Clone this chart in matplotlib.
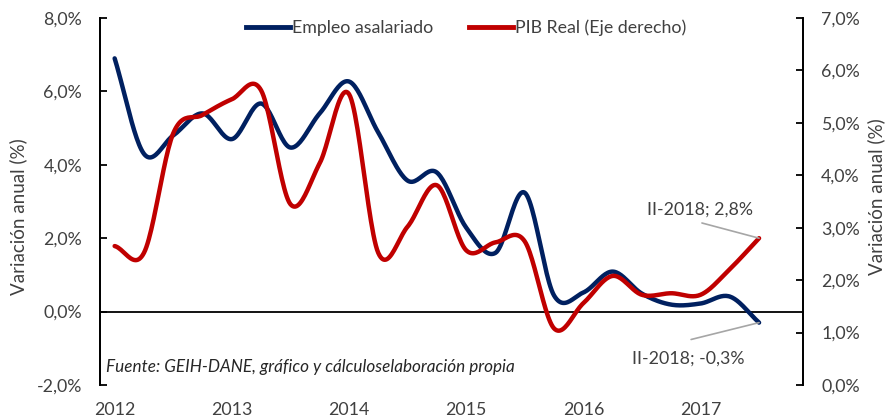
import numpy as np
import matplotlib

matplotlib.use("Agg")
import matplotlib.pyplot as plt  # noqa: E402

# quarterly series, 2012 onward (last point = II-2018)
empleo = [6.9, 4.3, 4.8, 5.4, 4.7, 5.67, 4.47, 5.4, 6.27, 4.88, 3.57, 3.79,
          2.29, 1.6, 3.24, 0.44, 0.52, 1.09, 0.49, 0.19, 0.22, 0.41, -0.3]
pib = [2.65, 2.52, 4.8, 5.15, 5.45, 5.62, 3.45, 4.23, 5.55, 2.52, 3.02, 3.81,
       2.57, 2.72, 2.74, 1.08, 1.56, 2.08, 1.72, 1.75, 1.72, 2.21, 2.8]
years = ["2012", "2013", "2014", "2015", "2016", "2017"]

BLUE, RED, INK, LEAD = "#002060", "#C00000", "#404040", "#a6a6a6"
FS = 12.8
plt.rcParams["font.family"] = ["Lato", "DejaVu Sans"]


def smooth(y, n=24):
    # Catmull-Rom through the points, like Excel's "smoothed line"
    y = np.asarray(y, float)
    p = np.concatenate([[2 * y[0] - y[1]], y, [2 * y[-1] - y[-2]]])
    xs, ys = [], []
    for i in range(len(y) - 1):
        p0, p1, p2, p3 = p[i], p[i + 1], p[i + 2], p[i + 3]
        t = np.linspace(0, 1, n, endpoint=False)
        yy = 0.5 * ((2 * p1) + (-p0 + p2) * t + (2 * p0 - 5 * p1 + 4 * p2 - p3) * t ** 2
                    + (-p0 + 3 * p1 - 3 * p2 + p3) * t ** 3)
        xs.append(i + t)
        ys.append(yy)
    xs.append([len(y) - 1])
    ys.append([y[-1]])
    return np.concatenate(xs), np.concatenate(ys)


fig = plt.figure(figsize=(8.85, 4.17), dpi=100)
ax = fig.add_axes([100 / 885, 1 - 385 / 417, 703 / 885, 367 / 417])
ax2 = ax.twinx()  # secondary axis drawn on top, as in Excel

ax.axhline(0, color="black", lw=1.3, zorder=1)
xb, yb = smooth(empleo)
xr, yr = smooth(pib)
ax.plot(xb, yb, color=BLUE, lw=3.2, solid_capstyle="round", zorder=3)
ax2.plot(xr, yr, color=RED, lw=3.2, solid_capstyle="round", zorder=2)

ax.set_xlim(-0.5, 23.5)
ax.set_ylim(-2, 8)
ax2.set_ylim(0, 7)
ax.set_yticks(np.arange(-2, 8.1, 2))
ax.set_yticklabels([f"{v:.1f}%".replace(".", ",") for v in np.arange(-2, 8.1, 2)])
ax2.set_yticks(np.arange(0, 7.1, 1))
ax2.set_yticklabels([f"{v:.1f}%".replace(".", ",") for v in np.arange(0, 7.1, 1)])
ax.set_xticks(np.arange(0, 24, 4)[:len(years)])
ax.set_xticklabels(years)

for a in (ax, ax2):
    for s in ("top", "bottom"):
        a.spines[s].set_visible(False)
    a.spines["left"].set_linewidth(1.3)
    a.spines["right"].set_linewidth(1.3)
ax.tick_params(axis="y", direction="in", length=5, width=1.3, labelsize=FS,
               labelcolor=INK, pad=13)
ax2.tick_params(axis="y", direction="in", length=5, width=1.3, labelsize=FS,
                labelcolor=INK, pad=13)
ax.tick_params(axis="x", length=0, labelsize=FS, labelcolor=INK, pad=12)

fig.text(18 / 885, 1 - 217 / 417, "Variación anual (%)", rotation=90, ha="center",
         va="center", fontsize=13.5, color=INK)
fig.text(876 / 885, 1 - 197 / 417, "Variación anual (%)", rotation=90, ha="center",
         va="center", fontsize=13.5, color=INK)

h1, = ax.plot([], [], color=BLUE, lw=3.5)
h2, = ax.plot([], [], color=RED, lw=3.5)
ax2.legend([h1, h2], ["Empleo asalariado", "PIB Real (Eje derecho)"], loc="center",
           bbox_to_anchor=((466 - 100) / 703, (385 - 28) / 367), ncol=2, frameon=False,
           fontsize=FS, handlelength=2.5, handletextpad=0.1, columnspacing=2.0,
           labelcolor=INK)

# data labels for the last quarter, with leader lines from below the text
ax2.text(20.0, 3.34, "II-2018; 2,8%", fontsize=FS, color=INK, ha="center", va="center")
ax2.annotate("", xy=(22, pib[-1]), xytext=(20.05, 3.09),
             arrowprops=dict(arrowstyle="-", color=LEAD, lw=1.2, shrinkA=0, shrinkB=0))
ax.text(19.58, -1.28, "II-2018; -0,3%", fontsize=FS, color=INK, ha="center", va="center")
ax.annotate("", xy=(22, empleo[-1]), xytext=(19.68, -0.76),
            arrowprops=dict(arrowstyle="-", color=LEAD, lw=1.2, shrinkA=0, shrinkB=0))

ax.text(0.008, -1.5, "Fuente: GEIH-DANE, gráfico y cálculoselaboración propia",
        transform=ax.get_yaxis_transform(), fontsize=12.3, style="italic", color="#262626",
        va="center", ha="left")

fig.savefig("out.png", dpi=100)
